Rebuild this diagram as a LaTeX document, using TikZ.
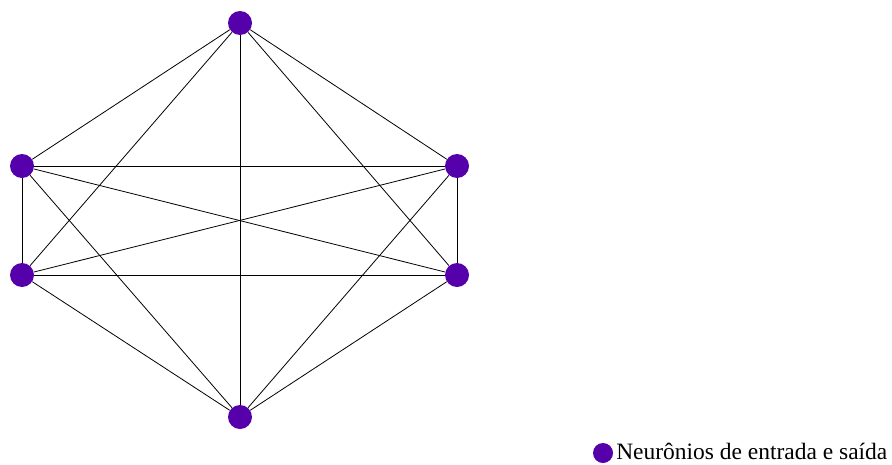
\documentclass[tikz,border=0pt]{standalone}
\usepackage{fontspec}
\setmainfont{Liberation Serif}
\usepackage{tikz}

\definecolor{neuron}{RGB}{85,0,170}
\tikzset{
  neuronio/.style={circle, fill=neuron, draw=none, minimum size=18pt, inner sep=0pt},
  ligacao/.style={draw=black, line width=0.6pt}
}

\begin{document}
\begin{tikzpicture}[x=0.75pt,y=0.75pt,yscale=-1,xscale=1]
%set diagram left start at 0, and has height of 464
\useasboundingbox (0,0) rectangle (892,464);

% Circles
\node [neuronio] (topo) at (240,23) {};
\node [neuronio] (esqA) at (22,166) {};
\node [neuronio] (dirA) at (457,166) {};
\node [neuronio] (esqB) at (22,275) {};
\node [neuronio] (dirB) at (457,275) {};
\node [neuronio] (base) at (240,417) {};

%Straight Lines
\draw [ligacao] (topo) -- (esqA) ;
\draw [ligacao] (topo) -- (dirA) ;
\draw [ligacao] (topo) -- (esqB) ;
\draw [ligacao] (topo) -- (dirB) ;
\draw [ligacao] (topo) -- (base) ;
\draw [ligacao] (esqA) -- (dirA) ;
\draw [ligacao] (esqA) -- (esqB) ;
\draw [ligacao] (esqA) -- (dirB) ;
\draw [ligacao] (esqA) -- (base) ;
\draw [ligacao] (dirA) -- (esqB) ;
\draw [ligacao] (dirA) -- (dirB) ;
\draw [ligacao] (dirA) -- (base) ;
\draw [ligacao] (esqB) -- (dirB) ;
\draw [ligacao] (esqB) -- (base) ;
\draw [ligacao] (dirB) -- (base) ;

% Legend
\node [neuronio, minimum size=15pt] (legPonto) at (603,453) {};
% Text Node
\draw (615,451) node [anchor=west][inner sep=0.75pt] (legTexto) {\fontsize{17.6}{20}\selectfont Neurônios de entrada e saída};

\end{tikzpicture}
\end{document}
